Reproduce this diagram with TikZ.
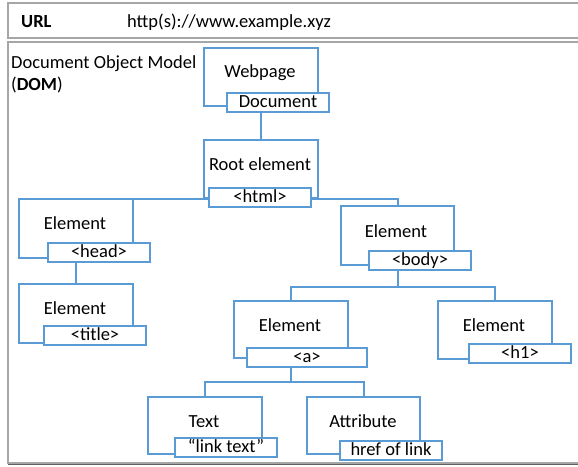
\documentclass[tikz,border=0pt]{standalone}
\usepackage{fontspec}
\setmainfont{Carlito}
\usetikzlibrary{backgrounds}
\definecolor{ebblue}{HTML}{5B9BD5}
\definecolor{framegray}{HTML}{A6A6A6}
\definecolor{framedark}{HTML}{606060}
\tikzset{
  ebox/.style={draw=ebblue, line width=2pt, fill=white, anchor=north west, inner sep=0pt, minimum height=58pt},
  lbox/.style={draw=ebblue, line width=2pt, fill=white, anchor=north west, inner sep=0pt,
     minimum width=102pt, minimum height=19pt, text height=12pt, text depth=2pt, font=\fontsize{18.5}{22}\selectfont},
  etext/.style={anchor=base, inner sep=0pt, font=\fontsize{18.5}{22}\selectfont},
  conn/.style={draw=ebblue, line width=2pt},
  frame/.style={draw=framegray, line width=2pt}
}
\begin{document}
\begin{tikzpicture}[x=1pt,y=-1pt]
\useasboundingbox (0,0) rectangle (578,466);
\clip (0,0) rectangle (578,466);
% outer frames
\draw[frame] (8,3) rectangle (600,38);
\draw[frame] (8,42) rectangle (600,463);
\draw[draw=framedark, line width=1.6pt] (8,464.5) -- (600,464.5);
\node[etext, anchor=base west, font=\fontsize{18.5}{22}\selectfont\bfseries] (urllbl) at (21,27) {URL};
\node[etext, anchor=base west] (urltxt) at (127,27) {http(s)://www.example.xyz};
\node[etext, anchor=base west] (dom1) at (11,68) {Document Object Model};
\node[etext, anchor=base west] (dom2) at (11,90) {(\textbf{DOM})};

% element boxes
\node[ebox, minimum width=114pt] (web) at (203,47) {};
\node[ebox, minimum width=114pt] (root) at (203,139) {};
\node[ebox, minimum width=114pt, minimum height=59pt] (head) at (18,198) {};
\node[ebox, minimum width=114pt, minimum height=59pt] (title) at (18,283) {};
\node[ebox, minimum width=113pt, minimum height=59pt] (body) at (340,205) {};
\node[ebox, minimum width=114pt, minimum height=57pt] (a) at (233,300) {};
\node[ebox, minimum width=114pt, minimum height=58pt] (h1) at (437,300) {};
\node[ebox, minimum width=114pt, minimum height=57pt] (text) at (147,396) {};
\node[ebox, minimum width=113pt, minimum height=57pt] (attr) at (306,396) {};

% connectors (behind boxes)
\begin{scope}[on background layer]
\draw[conn] (web.south) -- (root.north);
\draw[conn] (root.south) -| (head.north);
\draw[conn] (root.south) -| (body.north);
\draw[conn] (head.south) -- (title.north);
\draw[conn] (body.south) -- ++(0,21) -| (a.north);
\draw[conn] (body.south) -- ++(0,21) -| (h1.north);
\draw[conn] (a.south) -- ++(0,23) -| (text.north);
\draw[conn] (a.south) -- ++(0,23) -| (attr.north);
\end{scope}

% element texts
\node[etext] (webt) at (260,77) {Webpage};
\node[etext] (roott) at (260,170) {Root element};
\node[etext] (headt) at (75,229) {Element};
\node[etext] (titlet) at (75,314) {Element};
\node[etext] (bodyt) at (396,237) {Element};
\node[etext] (at) at (290,331) {Element};
\node[etext] (h1t) at (494,331) {Element};
\node[etext] (textt) at (204,427) {Text};
\node[etext] (attrt) at (363,427) {Attribute};

% label boxes
\node[lbox] (webl) at (226,92) {Document};
\node[lbox] (rootl) at (208,187) {<html>};
\node[lbox] (headl) at (47,242) {<head>};
\node[lbox] (titlel) at (43,325) {<title>};
\node[lbox] (bodyl) at (368,250) {<body>};
\node[lbox, minimum width=120pt] (al) at (246,347) {<a>};
\node[lbox] (h1l) at (468,343) {<h1>};
\node[lbox] (textl) at (174,437) {“link text”};
\node[lbox] (attrl) at (339,440) {href of link};
\end{tikzpicture}
\end{document}
